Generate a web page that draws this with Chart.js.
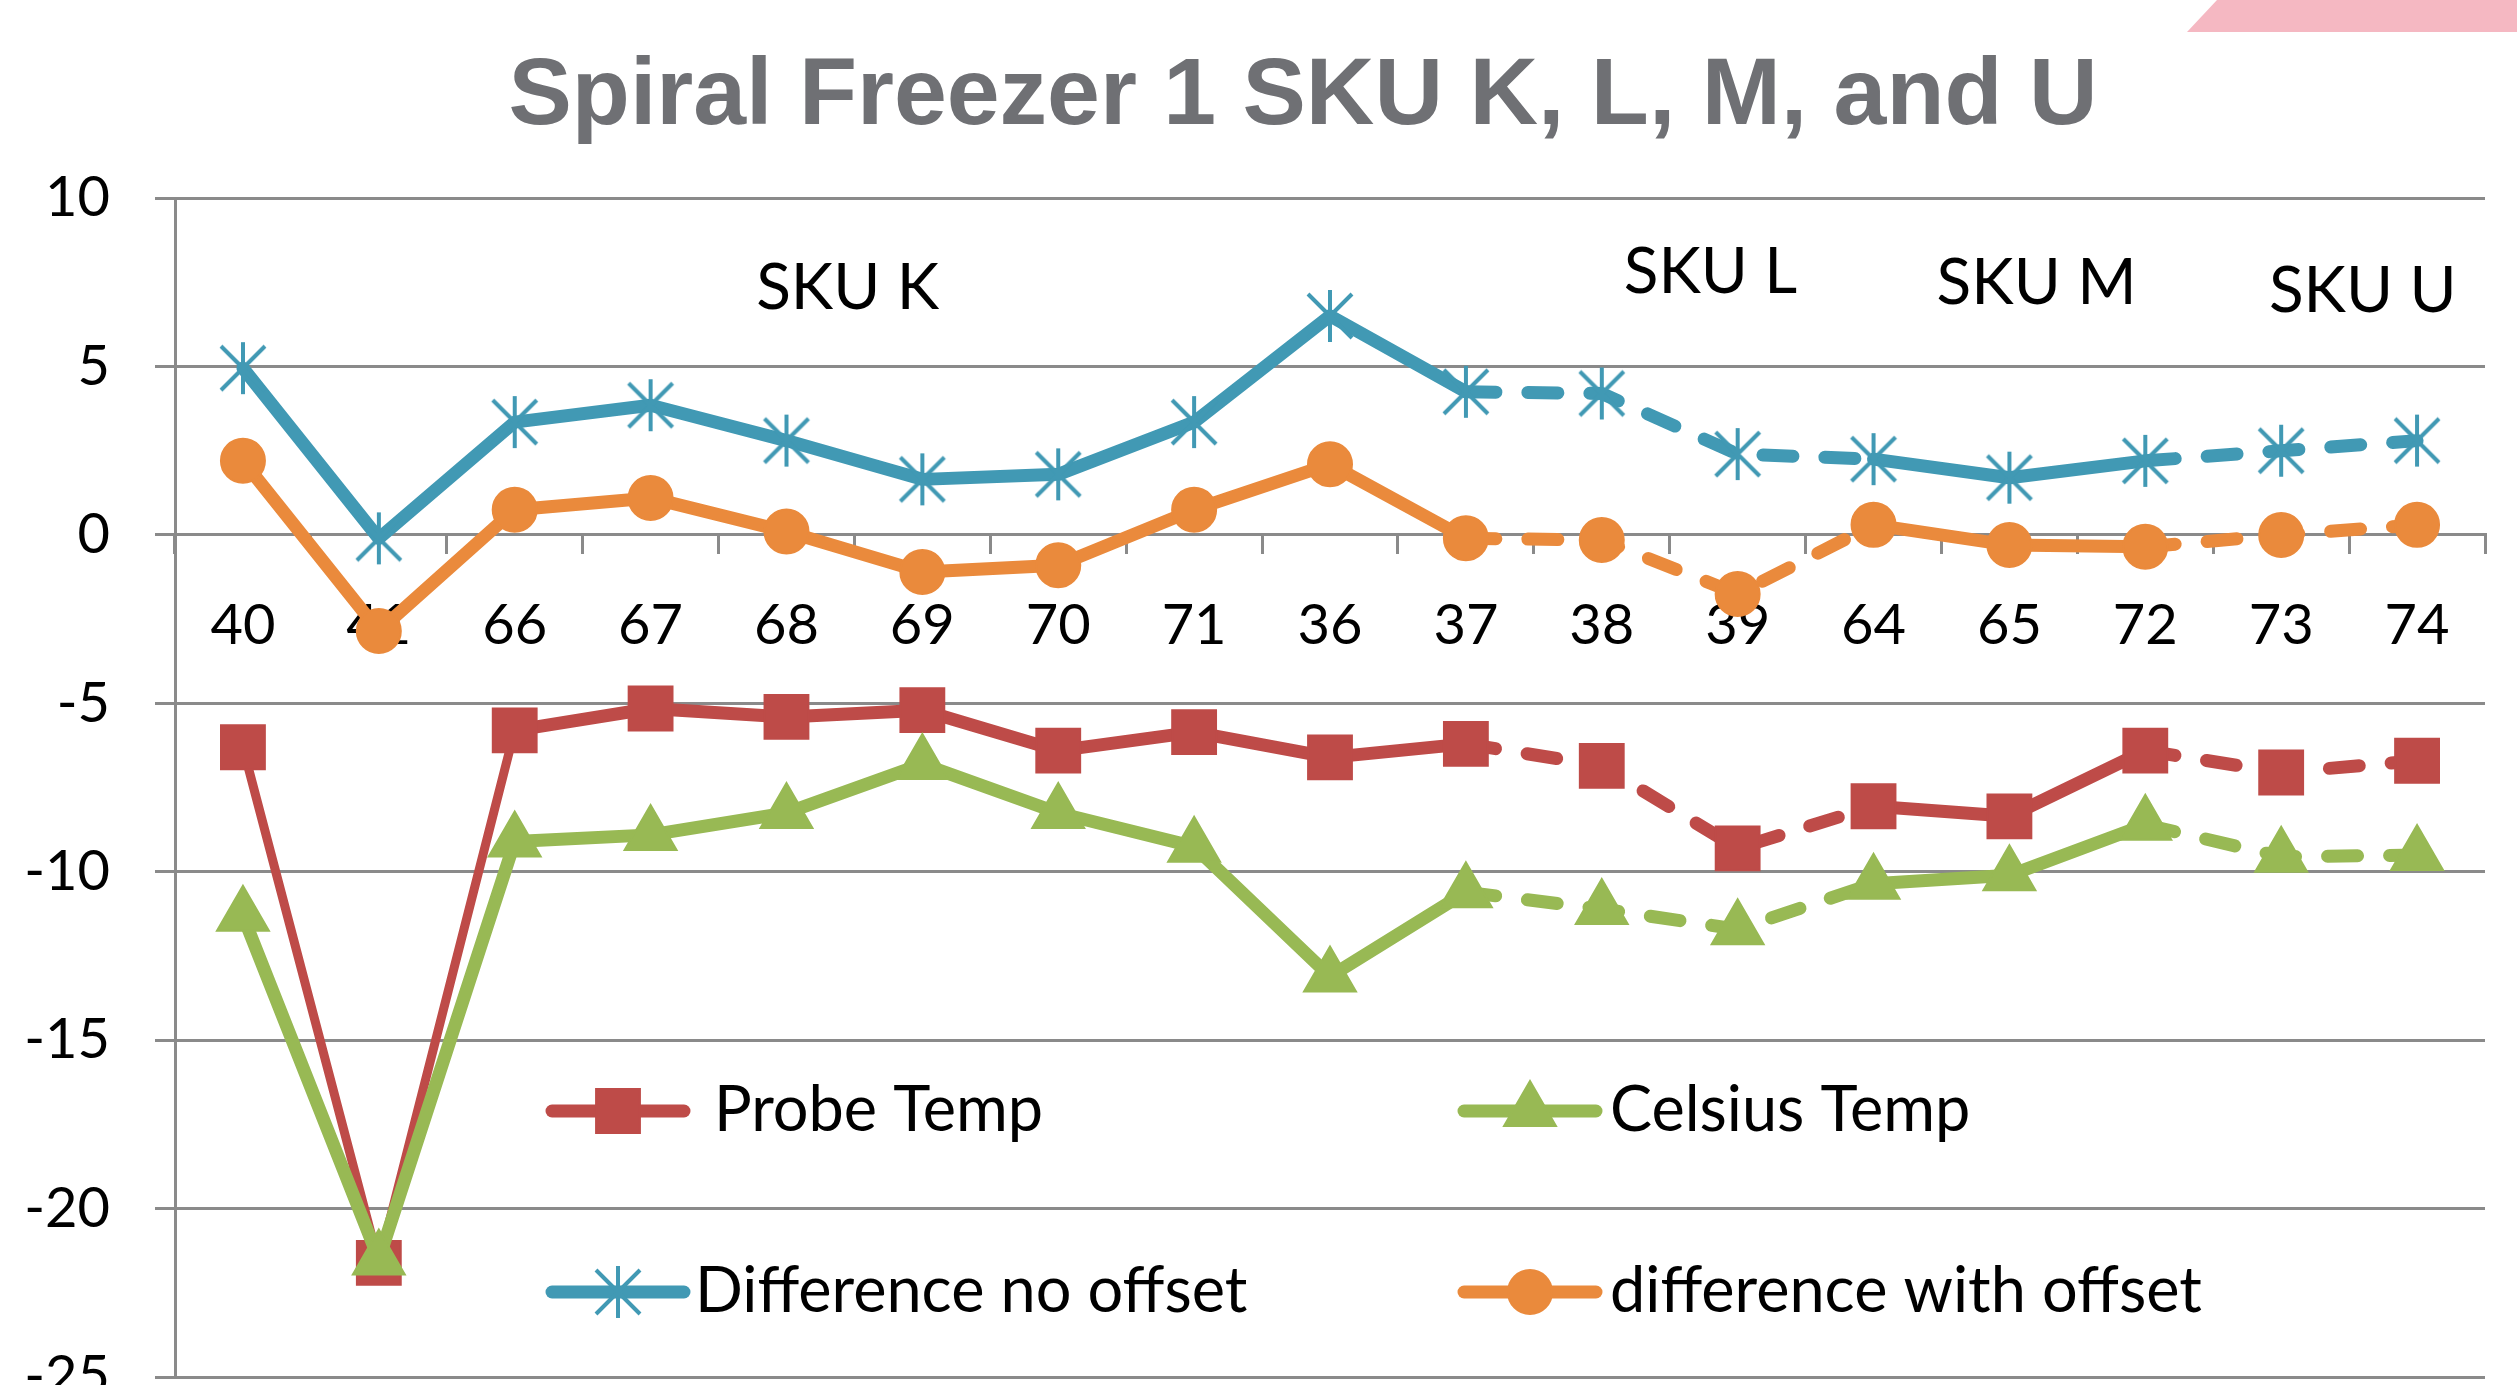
<!DOCTYPE html>
<html>
<head>
  <title>Spiral Freezer 1 SKU K, L, M, and U</title>
  <script src="https://cdn.jsdelivr.net/npm/chart.js"></script>
  <style>
    html, body { margin: 0; padding: 0; background: #fff; overflow: hidden; width: 2517px; height: 1385px; }
    #ribbon { position: absolute; left: 2187px; top: 0; width: 330px; height: 32px; background: #f5b8c2;
      clip-path: polygon(30px 0, 100% 0, 100% 100%, 0 100%); }
    #title { position: absolute; left: 1303px; top: 44px; transform: translateX(-50%); white-space: nowrap;
      font: bold 95px "Liberation Sans", Arial, sans-serif; line-height: 1; color: #6f7074; }
    #chart { position: absolute; left: 0; top: 0; }
  </style>
</head>
<body>
  <div id="ribbon"></div>
  <div id="title">Spiral Freezer 1 SKU K, L, M, and U</div>
  <canvas id="chart" width="2518" height="1456"></canvas>
  <script>
    // sample numbers on the x axis
    const samples = ['40', '41', '66', '67', '68', '69', '70', '71', '36', '37', '38', '39', '64', '65', '72', '73', '74'];

    const probeTemp = [-6.3, -21.6, -5.8, -5.15, -5.4, -5.2, -6.4, -5.85, -6.6, -6.2, -6.85, -9.3, -8.05, -8.35, -6.4, -7.05, -6.7];
    const celsiusTemp = [-11.3, -21.5, -9.1, -8.9, -8.25, -6.8, -8.25, -9.25, -13.1, -10.6, -11.1, -11.7, -10.35, -10.1, -8.6, -9.55, -9.5];
    const diffNoOffset = [4.95, -0.1, 3.35, 3.85, 2.8, 1.65, 1.8, 3.35, 6.5, 4.25, 4.2, 2.4, 2.25, 1.7, 2.2, 2.5, 2.8];
    const diffWithOffset = [2.2, -2.85, 0.75, 1.1, 0.1, -1.1, -0.9, 0.75, 2.1, -0.1, -0.15, -1.75, 0.3, -0.3, -0.35, 0.0, 0.3];

    // segments (by starting sample index) drawn dashed
    const dashedFrom = [9, 10, 11, 14, 15];

    // SKU group labels: text, x (sample index), y (value)
    const skuNames = ['SKU K', 'SKU L', 'SKU M', 'SKU U'];
    const skuAt = [4.45, 10.8, 13.2, 15.6];
    const skuLevel = [7.32, 7.79, 7.46, 7.23];

    const yTicks = [10, 5, 0, -5, -10, -15, -20, -25];

    const RED = '#be4b48', GREEN = '#98b954', BLUE = '#4199b4', ORANGE = '#ea8a3c', GRID = '#8a8a8a';

    // excel style star marker
    const star = document.createElement('canvas');
    star.width = 50; star.height = 58;
    const sc = star.getContext('2d');
    sc.strokeStyle = BLUE; sc.lineWidth = 4;
    sc.beginPath();
    sc.moveTo(25, 3); sc.lineTo(25, 55);
    sc.moveTo(3, 7); sc.lineTo(47, 51);
    sc.moveTo(3, 51); sc.lineTo(47, 7);
    sc.stroke();

    const dash = c => dashedFrom.includes(c.p0DataIndex) ? [30, 32] : undefined;

    const overlay = {
      id: 'overlay',
      afterDatasetsDraw(chart) {
        const { ctx, scales: { x, y } } = chart;
        ctx.save();
        ctx.fillStyle = '#000';
        ctx.font = '64px Lato';
        ctx.textAlign = 'center';
        ctx.textBaseline = 'middle';
        skuNames.forEach((t, i) => ctx.fillText(t, x.getPixelForValue(skuAt[i]), y.getPixelForValue(skuLevel[i])));

        // legend, 2 x 2 inside the plot
        const cols = [618, 1530], rows = [1111, 1292], gap = [96, 80, 77, 80];
        ctx.font = '63px Lato';
        ctx.textAlign = 'left';
        chart.data.datasets.forEach((ds, i) => {
          const cx = cols[i % 2], cy = rows[Math.floor(i / 2)];
          ctx.strokeStyle = ds.borderColor;
          ctx.lineWidth = 13;
          ctx.lineCap = 'round';
          ctx.beginPath();
          ctx.moveTo(cx - 66, cy);
          ctx.lineTo(cx + 66, cy);
          ctx.stroke();
          ctx.fillStyle = ds.pointBackgroundColor;
          ctx.strokeStyle = ds.pointBorderColor;
          ctx.lineWidth = ds.pointBorderWidth;
          Chart.helpers.drawPoint(ctx, { pointStyle: ds.pointStyle, radius: ds.pointRadius, borderWidth: ds.pointBorderWidth, rotation: 0 }, cx, cy);
          ctx.fillStyle = '#000';
          ctx.fillText(ds.label, cx + gap[i], cy);
        });
        ctx.restore();
      }
    };

    function series(label, data, color, style, radius, order, extra) {
      return Object.assign({
        label, data, order,
        borderColor: color, backgroundColor: color,
        borderWidth: 13, borderCapStyle: 'round', borderJoinStyle: 'round',
        pointStyle: style, pointRadius: radius, pointHoverRadius: radius,
        pointBackgroundColor: color, pointBorderColor: color, pointBorderWidth: 2,
        tension: 0, fill: false,
        segment: { borderDash: dash }
      }, extra || {});
    }

    function draw() {
      new Chart(document.getElementById('chart'), {
        type: 'line',
        data: {
          labels: samples,
          datasets: [
            series('Probe Temp', probeTemp, RED, 'rect', 31, 4,
              { segment: { borderDash: dash, borderWidth: c => c.p0DataIndex < 2 ? 9 : undefined } }),
            series('Celsius Temp', celsiusTemp, GREEN, 'triangle', 30, 3),
            series('Difference no offset', diffNoOffset, BLUE, star, 26, 2, { pointBorderWidth: 0 }),
            series('difference with offset', diffWithOffset, ORANGE, 'circle', 22, 1)
          ]
        },
        options: {
          responsive: false,
          animation: false,
          events: [],
          layout: { padding: { top: 198, bottom: 0, left: 0, right: 0 } },
          plugins: { legend: { display: false }, tooltip: { enabled: false } },
          scales: {
            x: {
              type: 'category',
              position: { y: 0 },
              offset: true,
              grid: { drawOnChartArea: false, drawTicks: true, tickLength: 18, offset: true, color: GRID, lineWidth: 3 },
              border: { display: true, color: GRID, width: 3 },
              ticks: { color: '#000', font: { family: 'Lato', size: 56 }, padding: 39, maxRotation: 0, autoSkip: false }
            },
            y: {
              min: -25, max: 10,
              afterBuildTicks: s => { s.ticks = yTicks.map(v => ({ value: v })); },
              afterFit: s => { s.width = 175; },
              grid: { color: GRID, lineWidth: 3, tickLength: 20 },
              border: { display: true, color: GRID, width: 3 },
              ticks: { color: '#000', font: { family: 'Lato', size: 56 }, padding: 45 }
            }
          }
        },
        plugins: [overlay]
      });
    }

    document.fonts.load('56px Lato').then(draw, draw);
  </script>
</body>
</html>
